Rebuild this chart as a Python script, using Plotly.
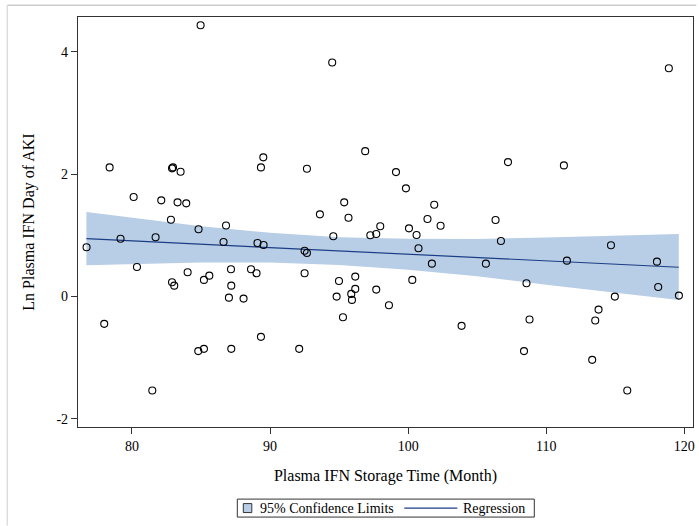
import plotly.graph_objects as go

# Scatter data: (storage time in months, ln plasma IFN)
storage_time = [84.97, 78.38, 82.97, 82.90, 83.52, 89.51, 89.34, 80.12, 82.12, 83.30,
                83.93, 82.82, 84.82, 86.81, 76.71, 79.17, 81.71, 86.63, 89.09, 89.53,
                80.36, 84.03, 82.90, 83.06, 85.21, 85.60, 87.17, 88.62, 89.02, 87.19,
                87.02, 88.08, 77.99, 89.34, 84.80, 85.21, 87.19, 81.47,
                94.50, 96.89, 92.67, 99.12, 99.84, 95.37, 101.89, 93.61, 95.68, 101.40,
                102.35, 97.98, 100.06, 94.58, 97.26, 97.69, 100.61, 92.50, 92.67, 100.75,
                101.72, 105.63, 92.50, 94.99, 96.17, 96.17, 94.82, 95.88, 95.93, 97.69,
                100.30, 98.61, 95.28, 103.87, 92.11,
                118.88, 107.23, 111.28, 106.33, 106.72, 114.69, 111.50, 118.02, 108.57, 118.11,
                114.97, 119.61, 113.79, 113.55, 108.79, 108.39, 113.33, 115.87]
ln_ifn = [4.436, 2.111, 2.111, 2.095, 2.039, 2.275, 2.111, 1.626, 1.572, 1.539,
          1.523, 1.255, 1.098, 1.160, 0.804, 0.944, 0.967, 0.891, 0.874, 0.842,
          0.482, 0.395, 0.232, 0.176, 0.270, 0.340, 0.444, 0.444, 0.379, 0.176,
          -0.020, -0.036, -0.449, -0.662, -0.895, -0.858, -0.858, -1.539,
          3.827, 2.377, 2.088, 2.034, 1.768, 1.539, 1.500, 1.343, 1.288, 1.266,
          1.157, 1.147, 1.114, 0.984, 1.000, 1.021, 1.005, 0.748, 0.711, 0.788,
          0.536, 0.536, 0.379, 0.253, 0.324, 0.123, -0.003, 0.041, -0.057, 0.111,
          0.270, -0.144, -0.340, -0.482, -0.858,
          3.734, 2.198, 2.144, 1.250, 0.907, 0.837, 0.585, 0.569, 0.216, 0.155,
          -0.003, 0.013, -0.216, -0.395, -0.379, -0.895, -1.038, -1.539]

# Confidence band
band_x = [76.7, 80, 85, 90, 95, 100, 105, 110, 115, 119.6]
band_upper = [1.38, 1.285, 1.15, 1.04, 0.97, 0.945, 0.94, 0.965, 1.0, 1.022]
band_lower = [0.51, 0.53, 0.553, 0.555, 0.515, 0.435, 0.33, 0.19, 0.055, -0.058]

# Regression line
reg_x = [76.7, 119.6]
reg_y = [0.944, 0.477]

x_ticks = [80, 90, 100, 110, 120]
y_ticks = [-2, 0, 2, 4]
y_tick_text = ["-2", "0", "2", "4"]

legend_labels = ["95% Confidence Limits", "Regression"]

FONT = "Liberation Serif"
band_color = "#b8cde6"
line_color = "#1b3d84"

fig = go.Figure()

fig.add_trace(go.Scatter(
    x=band_x + band_x[::-1],
    y=band_upper + band_lower[::-1],
    fill="toself", fillcolor=band_color,
    line=dict(color=band_color, width=0),
    mode="lines", showlegend=False, hoverinfo="skip", name=legend_labels[0],
))
fig.add_trace(go.Scatter(
    x=reg_x, y=reg_y, mode="lines",
    line=dict(color=line_color, width=1.2),
    name=legend_labels[1], showlegend=False,
))
fig.add_trace(go.Scatter(
    x=storage_time, y=ln_ifn, mode="markers",
    marker=dict(symbol="circle-open", size=7, color="black", line=dict(width=1.1, color="black")),
    showlegend=False,
))

L, R, T, B = 77.7, 692.7, 16.7, 427.3
W, H = 699, 526
pw, ph = R - L, B - T

def px(xp):
    return (xp - L) / pw

def py(yp):
    return (B - yp) / ph

leg_y = 508.5
shapes = [
    dict(type="line", xref="paper", yref="paper", x0=px(7), x1=px(696), y0=py(5), y1=py(5),
         line=dict(color="#cccccc", width=1.5)),
    dict(type="line", xref="paper", yref="paper", x0=px(7), x1=px(7), y0=py(5), y1=py(526),
         line=dict(color="#dddddd", width=1.5)),
    # legend frame
    dict(type="rect", xref="paper", yref="paper", x0=px(237), x1=px(534), y0=py(499.5), y1=py(517.5),
         line=dict(color="#333333", width=1), fillcolor="white"),
    # band swatch
    dict(type="rect", xref="paper", yref="paper", x0=px(243), x1=px(251.5), y0=py(leg_y - 4.5), y1=py(leg_y + 4.5),
         line=dict(color="#333333", width=1), fillcolor=band_color),
    # regression swatch
    dict(type="line", xref="paper", yref="paper", x0=px(404), x1=px(457), y0=py(leg_y), y1=py(leg_y),
         line=dict(color=line_color, width=1.2)),
]
annotations = [
    dict(xref="paper", yref="paper", x=px(258), y=py(leg_y), xanchor="left", yanchor="middle",
         text=legend_labels[0], showarrow=False, font=dict(family=FONT, size=14, color="black")),
    dict(xref="paper", yref="paper", x=px(461), y=py(leg_y), xanchor="left", yanchor="middle",
         text=legend_labels[1], showarrow=False, font=dict(family=FONT, size=14, color="black")),
]

fig.update_layout(
    width=W, height=H,
    margin=dict(l=L, r=W - R, t=T, b=H - B, pad=0, autoexpand=False),
    paper_bgcolor="white", plot_bgcolor="white",
    font=dict(family=FONT, color="black", size=13),
    showlegend=False,
    xaxis=dict(
        range=[76.09, 120.63], tickvals=x_ticks, ticks="outside", ticklen=6,
        tickcolor="#333333", showgrid=False, zeroline=False,
        showline=True, mirror=True, linecolor="#333333", linewidth=1.2,
        tickfont=dict(family=FONT, size=14),
        title=dict(text="Plasma IFN Storage Time (Month)", font=dict(family=FONT, size=16), standoff=16),
    ),
    yaxis=dict(
        range=[-2.137, 4.572], tickvals=y_ticks, ticktext=y_tick_text, ticks="outside", ticklen=6,
        tickcolor="#333333", showgrid=False, zeroline=False,
        showline=True, mirror=True, linecolor="#333333", linewidth=1.2,
        tickfont=dict(family=FONT, size=14),
        title=dict(text="Ln Plasma IFN Day of AKI", font=dict(family=FONT, size=16), standoff=17),
    ),
    shapes=shapes,
    annotations=annotations,
)

fig.write_html("out.html", config={"displayModeBar": False},
               post_script="document.body.style.margin='0px';document.body.style.overflow='hidden';")
